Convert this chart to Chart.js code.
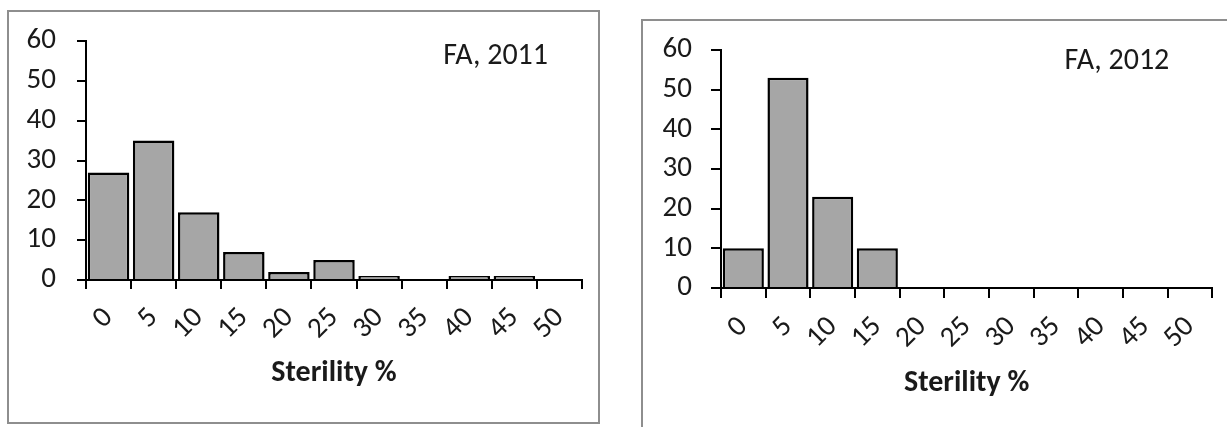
<!DOCTYPE html>
<html>
<head>
<meta charset="utf-8">
<title>Sterility % histograms, FA 2011 and 2012</title>
<script src="https://cdn.jsdelivr.net/npm/chart.js@4/dist/chart.umd.min.js"></script>
<style>
  html, body { margin: 0; padding: 0; background: #fff; }
  body { width: 1227px; height: 427px; position: relative; overflow: hidden; }
  canvas { position: absolute; top: 0; }
  #chart2011 { left: 0; }
  #chart2012 { left: 620px; }
  .frame { position: absolute; box-sizing: border-box; }
  #frame2011 { left: 7px; top: 10px; width: 593px; height: 414px; border: 2px solid #8e8e8e; }
  #frame2012 { left: 641px; top: 19px; width: 600px; height: 420px; border-left: 2px solid #8e8e8e; border-top: 2px solid #8e8e8e; }
</style>
</head>
<body>
<div class="frame" id="frame2011"></div>
<div class="frame" id="frame2012"></div>
<canvas id="chart2011" width="610" height="427"></canvas>
<canvas id="chart2012" width="607" height="427"></canvas>
<script>
// Sterility classes (%) on the x axis
const sterilityBins = ["0", "5", "10", "15", "20", "25", "30", "35", "40", "45", "50"];

// counts
const fa2011 = [27, 35, 17, 7, 2, 5, 1, 0, 1, 1, 0];
const fa2012 = [10, 53, 23, 10, 0, 0, 0, 0, 0, 0, 0];

// y axis range
const yMin = 0;
const yMax = 60;
const yStep = 10;

const textColor = "#1a1a1a";
const fontFamily = 'Carlito, "Open Sans", sans-serif';

// draws the "FA, 20xx" label inside the plot area, top right
const panelLabel = {
  id: "panelLabel",
  afterDraw(chart, args, opts) {
    const ctx = chart.ctx;
    const area = chart.chartArea;
    ctx.save();
    ctx.font = "30px " + fontFamily;
    ctx.fillStyle = textColor;
    ctx.textAlign = "right";
    ctx.textBaseline = "alphabetic";
    ctx.fillText(opts.text, area.right - opts.dx, area.top + opts.dy);
    ctx.restore();
  },
};

function makeChart(id, values, label, box) {
  const ctx = document.getElementById(id).getContext("2d");
  return new Chart(ctx, {
    type: "bar",
    data: {
      labels: sterilityBins,
      datasets: [
        {
          label: label,
          data: values,
          backgroundColor: "#a6a6a6",
          borderColor: "#000",
          borderWidth: 2.5,
          categoryPercentage: 0.92,
          barPercentage: 1,
        },
      ],
    },
    options: {
      responsive: false,
      animation: false,
      layout: {
        padding: { left: 0, top: box.top, right: box.right, bottom: 0 },
      },
      plugins: {
        legend: { display: false },
        tooltip: { enabled: false },
        panelLabel: { text: label, dx: box.labelDx, dy: box.labelDy },
      },
      scales: {
        x: {
          afterFit: (scale) => { scale.height = box.xHeight; },
          grid: {
            display: true,
            drawOnChartArea: false,
            drawTicks: true,
            tickLength: box.tick,
            tickColor: "#000",
            lineWidth: 2,
          },
          border: { display: true, color: "#000", width: 2 },
          ticks: {
            autoSkip: false,
            minRotation: 45,
            maxRotation: 45,
            padding: 12,
            color: textColor,
            font: { family: fontFamily, size: 29 },
          },
          title: {
            display: true,
            text: "Sterility %",
            color: textColor,
            padding: { top: 0, bottom: box.titleBottom },
            font: { family: fontFamily, size: 30, weight: "bold" },
          },
        },
        y: {
          min: yMin,
          max: yMax,
          afterFit: (scale) => { scale.width = box.left; },
          grid: {
            display: true,
            drawOnChartArea: false,
            drawTicks: true,
            tickLength: box.tick,
            tickColor: "#000",
            lineWidth: 2,
          },
          border: { display: true, color: "#000", width: 2 },
          ticks: {
            stepSize: yStep,
            padding: box.yPad,
            color: textColor,
            font: { family: fontFamily, size: 29 },
          },
        },
      },
    },
    plugins: [panelLabel],
  });
}

makeChart("chart2011", fa2011, "FA, 2011", {
  left: 86, top: 41, right: 28, xHeight: 147, tick: 9, yPad: 21,
  titleBottom: 36, labelDx: 34, labelDy: 23,
});

makeChart("chart2012", fa2012, "FA, 2012", {
  left: 101, top: 50, right: 9, xHeight: 139, tick: 10, yPad: 19,
  titleBottom: 26, labelDx: 43, labelDy: 19,
});
</script>
</body>
</html>
